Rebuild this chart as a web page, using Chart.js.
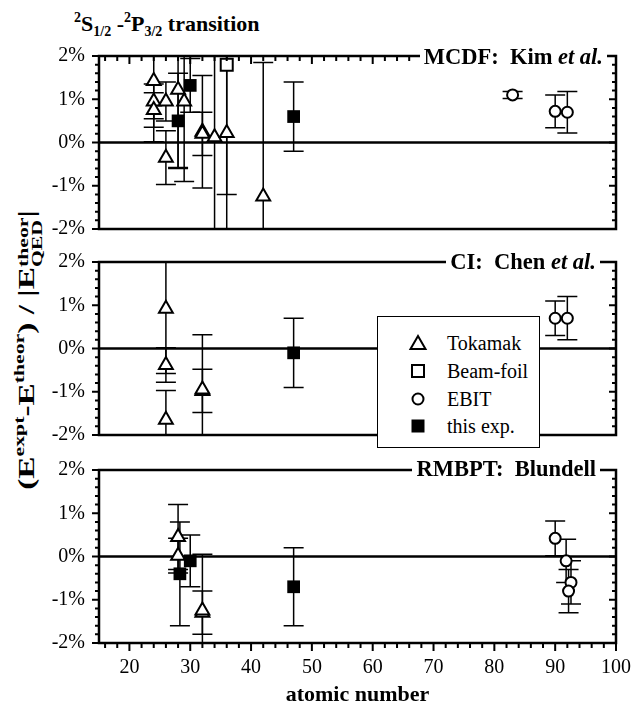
<!DOCTYPE html>
<html>
<head>
<meta charset="utf-8">
<script src="https://cdn.jsdelivr.net/npm/chart.js@4.4.0/dist/chart.umd.min.js"></script>
<style>
  body { margin: 0; width: 634px; height: 717px; position: relative; background: #fff; overflow: hidden;
         font-family: "Liberation Serif", "Times New Roman", serif; color: #000; }
  canvas { position: absolute; left: 0; }
  #title { position: absolute; left: 74px; top: 13px; font-size: 22px; line-height: 22px; font-weight: bold; white-space: nowrap; }
  #title sup, #title sub { font-size: 14px; position: relative; vertical-align: baseline; }
  #title sup { top: -9px; }
  #title sub { top: 5px; }
  .plab { position: absolute; font-size: 22.5px; line-height: 22px; font-weight: bold; background: #fff;
          padding: 0 4px; white-space: nowrap; }
  #ylab { position: absolute; left: 29px; top: 350px; transform: translate(-50%, -50%) rotate(-90deg) scaleX(1.45);
          font-size: 23px; font-weight: bold; white-space: nowrap; line-height: 23px; }
  #ylab sup { font-size: 15px; position: relative; top: -10px; vertical-align: baseline; }
  #ylab .stk { display: inline-block; font-size: 15px; line-height: 14px; vertical-align: -8px; text-align: left; }
  #ylab .stk span { display: block; }
  #legend { position: absolute; left: 377px; top: 316px; width: 161px; height: 130px; border: 1.5px solid #000; background: #fff; }
  #legend .row { position: absolute; left: 0; height: 20px; font-size: 20px; line-height: 20px; white-space: nowrap; }
  #legend svg { position: absolute; left: 30px; top: 0; }
  #legend span { position: absolute; left: 69px; top: 0; }
</style>
</head>
<body>
<div id="title"><sup>2</sup>S<sub>1/2</sub> -<sup>2</sup>P<sub>3/2</sub> transition</div>
<div id="ylab">(E<sup>expt</sup>-E<sup>theor</sup>) / |E<span class="stk"><span>theor</span><span>QED</span></span>|</div>

<canvas id="c1" width="634" height="210" style="top:40px"></canvas>
<canvas id="c2" width="634" height="200" style="top:250px"></canvas>
<canvas id="c3" width="634" height="262" style="top:455px"></canvas>

<div class="plab" style="top:46px; right:27px">MCDF:&nbsp; Kim <i>et al.</i></div>
<div class="plab" style="top:251px; right:34px">CI:&nbsp; Chen <i>et al.</i></div>
<div class="plab" style="top:458px; right:34px">RMBPT:&nbsp; Blundell</div>

<div id="legend">
  <div class="row" style="top:16px"><svg width="20" height="20"><polygon points="10,3 17.5,16 2.5,16" fill="#fff" stroke="#000" stroke-width="2"/></svg><span>Tokamak</span></div>
  <div class="row" style="top:44px"><svg width="20" height="20"><rect x="4" y="4" width="12" height="12" fill="#fff" stroke="#000" stroke-width="2"/></svg><span>Beam-foil</span></div>
  <div class="row" style="top:72px"><svg width="20" height="20"><circle cx="10" cy="10" r="5.5" fill="#fff" stroke="#000" stroke-width="2"/></svg><span>EBIT</span></div>
  <div class="row" style="top:99px"><svg width="20" height="20"><rect x="3.5" y="3.5" width="13" height="13" fill="#000"/></svg><span>this exp.</span></div>
</div>

<script>
// Achsen-Beschriftungen
const xTicks = [20, 30, 40, 50, 60, 70, 80, 90, 100];
const yTicks = [-2, -1, 0, 1, 2];

// MCDF: Kim et al. (Abweichung in %, Fehler in %)
const mcdfTokZ   = [24, 24, 24, 26, 26, 28, 29, 32, 32, 34, 36, 42];
const mcdfTokVal = [1.42, 0.95, 0.75, 0.95, -0.35, 1.22, 0.95, 0.25, 0.2, 0.12, 0.22, -1.25];
const mcdfTokErr = [1.4, 0.4, 0.4, 0.45, 0.62, 1.8, 1.85, 1.3, 0.5, 3.0, 3.0, 3.1];
const mcdfFoilZ   = [36];
const mcdfFoilVal = [1.8];
const mcdfFoilErr = [3.0];
const mcdfEbitZ   = [83, 90, 92];
const mcdfEbitVal = [1.1, 0.72, 0.7];
const mcdfEbitErr = [0.08, 0.38, 0.48];
const mcdfExpZ   = [28, 30, 47];
const mcdfExpVal = [0.5, 1.32, 0.6];
const mcdfExpErr = [1.1, 0.62, 0.8];

// CI: Chen et al.
const ciTokZ   = [26, 26, 26, 32, 32];
const ciTokVal = [0.92, -0.38, -1.65, -0.98, -0.95];
const ciTokErr = [1.5, 0.4, 0.68, 0.5, 1.27];
const ciEbitZ   = [90, 92];
const ciEbitVal = [0.7, 0.7];
const ciEbitErr = [0.4, 0.5];
const ciExpZ   = [47];
const ciExpVal = [-0.1];
const ciExpErr = [0.8];

// RMBPT: Blundell
const rmTokZ   = [28, 28, 32, 32];
const rmTokVal = [0.45, 0.02, -1.3, -1.25];
const rmTokErr = [0.75, 0.4, 0.5, 1.3];
const rmEbitZ   = [90, 91.8, 92.6, 92.2];
const rmEbitVal = [0.42, -0.1, -0.6, -0.8];
const rmEbitErr = [0.4, 0.5, 0.5, 0.5];
const rmExpZ   = [28.3, 30, 47];
const rmExpVal = [-0.4, -0.1, -0.7];
const rmExpErr = [1.2, 0.6, 0.9];

const serif = '"Liberation Serif", "Times New Roman", serif';

function pts(zs, vals, errs) {
  return zs.map((z, i) => ({ x: z, y: vals[i], err: errs[i] }));
}

// Fehlerbalken, Nulllinie, Rahmen und Striche
const panelFrame = {
  id: 'panelFrame',
  beforeDatasetsDraw(chart) {
    const { ctx, chartArea: a, scales: { x, y } } = chart;
    ctx.save();
    ctx.beginPath();
    ctx.rect(a.left, a.top, a.right - a.left, a.bottom - a.top);
    ctx.clip();
    ctx.strokeStyle = '#000';
    ctx.lineWidth = 2.5;
    const y0 = y.getPixelForValue(0);
    ctx.beginPath();
    ctx.moveTo(a.left, y0);
    ctx.lineTo(a.right, y0);
    ctx.stroke();
    ctx.lineWidth = 1.5;
    chart.data.datasets.forEach(ds => {
      ds.data.forEach(p => {
        const px = x.getPixelForValue(p.x);
        const hi = y.getPixelForValue(p.y + p.err);
        const lo = y.getPixelForValue(p.y - p.err);
        ctx.beginPath();
        ctx.moveTo(px, hi); ctx.lineTo(px, lo);
        ctx.moveTo(px - 10, hi); ctx.lineTo(px + 10, hi);
        ctx.moveTo(px - 10, lo); ctx.lineTo(px + 10, lo);
        ctx.stroke();
      });
    });
    ctx.restore();
  },
  afterDraw(chart, args, opts) {
    const { ctx, chartArea: a, scales: { x, y } } = chart;
    ctx.save();
    ctx.strokeStyle = '#000';
    ctx.lineWidth = 2.5;
    ctx.strokeRect(a.left, a.top, a.right - a.left, a.bottom - a.top);
    ctx.lineWidth = 2;
    ctx.beginPath();
    for (let k = -10; k <= 10; k++) {
      const py = y.getPixelForValue(k / 5);
      const len = k % 5 === 0 ? 7 : 4;
      ctx.moveTo(a.left, py); ctx.lineTo(a.left - len, py);
      ctx.moveTo(a.right, py); ctx.lineTo(a.right - len, py);
    }
    for (let v = 16; v <= 100; v += 2) {
      const px = x.getPixelForValue(v);
      const len = v % 10 === 0 ? 8 : 5;
      if (opts.top) { ctx.moveTo(px, a.top); ctx.lineTo(px, a.top + len); }
      if (opts.bottom) { ctx.moveTo(px, a.bottom); ctx.lineTo(px, a.bottom + len); }
    }
    ctx.stroke();
    ctx.restore();
  }
};

function makePanel(id, tok, foil, ebit, exp, pad, opts) {
  const datasets = [
    { label: 'this exp.', data: exp, pointStyle: 'rect', pointRadius: 9, backgroundColor: '#000', borderColor: '#000', borderWidth: 0 },
    { label: 'EBIT', data: ebit, pointStyle: 'circle', pointRadius: 5.5, backgroundColor: '#fff', borderColor: '#000', borderWidth: 2 },
    { label: 'Beam-foil', data: foil, pointStyle: 'rect', pointRadius: 8.5, backgroundColor: '#fff', borderColor: '#000', borderWidth: 2 },
    { label: 'Tokamak', data: tok, pointStyle: 'triangle', pointRadius: 8, backgroundColor: '#fff', borderColor: '#000', borderWidth: 2 }
  ];
  return new Chart(document.getElementById(id), {
    type: 'scatter',
    data: { datasets },
    options: {
      responsive: false,
      animation: false,
      devicePixelRatio: 1,
      layout: { padding: pad },
      plugins: { legend: { display: false }, tooltip: { enabled: false }, panelFrame: opts },
      scales: {
        x: {
          type: 'linear', min: 15, max: 100, display: !!opts.bottom,
          afterBuildTicks: s => { s.ticks = xTicks.map(v => ({ value: v })); },
          ticks: { font: { family: serif, size: 20 }, color: '#000', padding: 13, maxRotation: 0, autoSkip: false },
          grid: { display: false, drawTicks: false },
          border: { display: false },
          title: { display: true, text: 'atomic number', color: '#000',
                   font: { family: serif, size: 22, weight: 'bold' }, padding: { top: 4, bottom: 8 } },
          afterFit: s => {
            if (opts.bottom) s.height = 74;
            s.paddingLeft = 0; s.paddingRight = 0;
          }
        },
        y: {
          min: -2, max: 2,
          afterBuildTicks: s => { s.ticks = yTicks.map(v => ({ value: v })); },
          ticks: { callback: v => v + '%', font: { family: serif, size: 20 }, color: '#000', padding: 14 },
          grid: { display: false, drawTicks: false },
          border: { display: false },
          afterFit: s => { s.width = 99; s.paddingTop = 0; s.paddingBottom = 0; }
        }
      }
    },
    plugins: [panelFrame]
  });
}

makePanel('c1',
  pts(mcdfTokZ, mcdfTokVal, mcdfTokErr), pts(mcdfFoilZ, mcdfFoilVal, mcdfFoilErr),
  pts(mcdfEbitZ, mcdfEbitVal, mcdfEbitErr), pts(mcdfExpZ, mcdfExpVal, mcdfExpErr),
  { left: 0, right: 18, top: 16, bottom: 21 }, { top: true });

makePanel('c2',
  pts(ciTokZ, ciTokVal, ciTokErr), [],
  pts(ciEbitZ, ciEbitVal, ciEbitErr), pts(ciExpZ, ciExpVal, ciExpErr),
  { left: 0, right: 18, top: 12, bottom: 15 }, {});

makePanel('c3',
  pts(rmTokZ, rmTokVal, rmTokErr), [],
  pts(rmEbitZ, rmEbitVal, rmEbitErr), pts(rmExpZ, rmExpVal, rmExpErr),
  { left: 0, right: 18, top: 15, bottom: 0 }, { bottom: true });
</script>
</body>
</html>
